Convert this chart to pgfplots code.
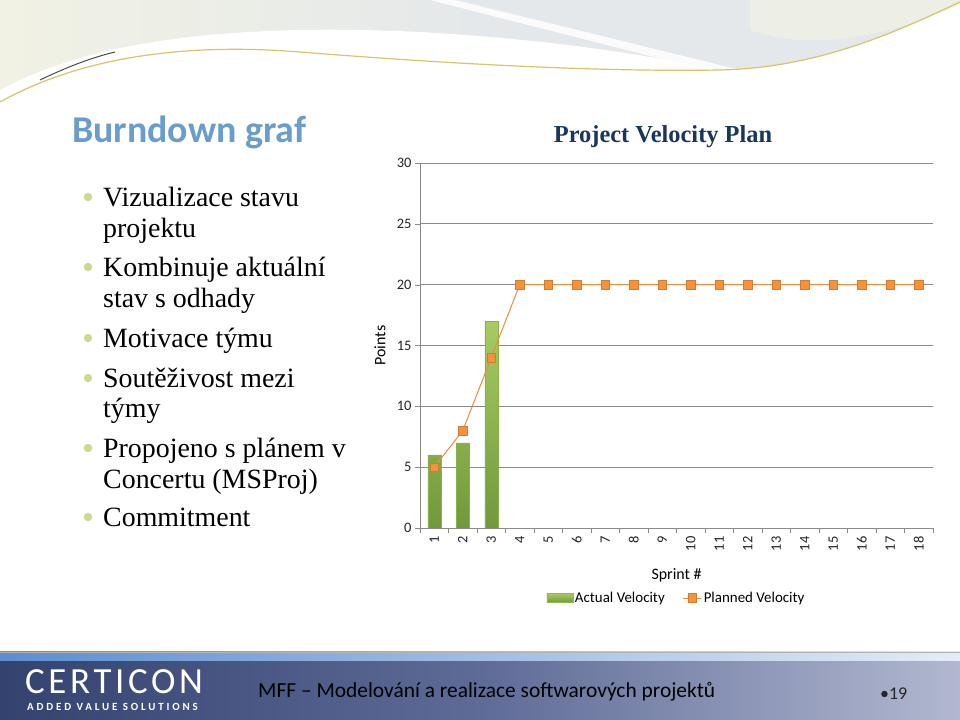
\documentclass[border=0pt]{standalone}
\usepackage{pgfplots}
\pgfplotsset{compat=1.18}
\usepackage{fontspec}
\setmainfont{Liberation Serif}
\newfontfamily\calibri{Carlito}
\definecolor{barTop}{HTML}{A6CC62}
\definecolor{barBot}{HTML}{70993A}
\definecolor{barEdge}{HTML}{8AB04A}
\definecolor{lineOr}{HTML}{EE8B3C}
\definecolor{markOr}{HTML}{F7923A}
\definecolor{gridgray}{HTML}{8A8A8A}
\definecolor{titleNavy}{HTML}{17375E}
\definecolor{slideTitle}{HTML}{6A9DCB}
\definecolor{bulletCol}{HTML}{CBDB8E}
\definecolor{footL}{HTML}{34426F}
\definecolor{footM}{HTML}{5E6B97}
\definecolor{footR}{HTML}{B2B8D0}
\definecolor{stripL}{HTML}{5C8ED0}
\definecolor{stripR}{HTML}{E4ECF6}
\definecolor{decoGray}{HTML}{E5E8EA}
\definecolor{decoYel}{HTML}{F1F2E4}
\definecolor{goldLine}{HTML}{D8C46A}
\pgfplotsset{
  mylineleg/.style={legend image code/.code={\draw[mark repeat=2,mark phase=2,##1] plot coordinates {(-8bp,0bp) (1bp,0bp) (10bp,0bp)};}},
  mybarleg/.style={legend image code/.code={\fill[barTop!60!barBot] (-12bp,-4.5bp) rectangle (14bp,4.5bp);}}
}
\begin{document}
\begin{tikzpicture}[x=1bp,y=1bp]
\path[use as bounding box] (0,0) rectangle (960,720);
\fill[white] (0,0) rectangle (960,720);
% top decoration
\shade[left color=decoYel, right color=decoGray, middle color=decoGray]
  (0,720) -- (0,615) .. controls (90,668) and (200,676) .. (300,668)
  .. controls (450,656) and (600,648) .. (720,650)
  .. controls (820,652) and (900,690) .. (960,718) -- (960,720) -- cycle;
\fill[white] (0,630) .. controls (100,684) and (250,696) .. (420,688)
  .. controls (560,680) and (650,664) .. (720,650)
  .. controls (600,648) and (450,656) .. (300,668)
  .. controls (200,676) and (90,668) .. (0,615) -- cycle;
\fill[white, opacity=0.85] (430,720) -- (455,720) -- (740,650) -- (705,650) -- cycle;
\fill[decoYel, opacity=0.7] (750,720) -- (960,720) -- (960,715) .. controls (900,690) and (820,665) .. (750,690) -- cycle;
\draw[goldLine, line width=1.2bp] (0,618) .. controls (90,668) and (200,676) .. (300,668)
  .. controls (450,656) and (600,648) .. (720,650)
  .. controls (820,652) and (900,690) .. (960,718);
\draw[gray!60!black, line width=1bp] (40,640) .. controls (65,652) and (90,662) .. (115,668);
% slide title
\node[anchor=base west, inner sep=0pt, text=slideTitle, font=\calibri\bfseries\fontsize{38}{42}\selectfont] at (72,577) {Burndown graf};
% bullets
\foreach \yy in {513,443,372,332,262,193} {\fill[bulletCol] (88,\yy+10) circle (4.2);}
\begin{scope}[every node/.style={anchor=base west, inner sep=0pt, font=\fontsize{28}{31}\selectfont}]
\node at (103,513) {Vizualizace stavu};
\node at (103,482) {projektu};
\node at (103,443) {Kombinuje aktuální};
\node at (103,412) {stav s odhady};
\node at (103,372) {Motivace týmu};
\node at (103,332) {Soutěživost mezi};
\node at (103,302) {týmy};
\node at (103,262) {Propojeno s plánem v};
\node at (103,231) {Concertu (MSProj)};
\node at (103,193) {Commitment};
\end{scope}
% chart title
\node[text=titleNavy, font=\bfseries\fontsize{24.5}{28}\selectfont] at (663,583) {Project Velocity Plan};
\begin{axis}[
  at={(420bp,192bp)}, anchor=south west,
  scale only axis, width=513bp, height=365bp,
  xmin=0.5, xmax=18.5, ymin=0, ymax=30,
  axis x line*=bottom, axis y line*=left,
  axis line style={draw=gridgray},
  ytick={0,5,...,30},
  xtick={1,...,18},
  minor xtick={0.5,1.5,...,18.5},
  tick align=outside,
  major tick length=5bp, minor tick length=5bp,
  major x tick style={draw=none},
  minor x tick style={draw=gridgray},
  major y tick style={draw=gridgray},
  ymajorgrids, grid style={draw=gridgray, line width=0.7bp},
  /pgf/number format/assume math mode=true,
  tick label style={font=\calibri\fontsize{14.5}{16}\selectfont, text=black!85},
  x tick label style={rotate=90, anchor=east},
  xlabel={Sprint \#}, ylabel={Points},
  label style={font=\calibri\fontsize{16}{18}\selectfont},
  x label style={at={(axis description cs:0.5,-0.129)}, anchor=center},
  y label style={at={(axis description cs:-0.078,0.5)}, anchor=center, rotate=0},
  legend style={at={(0.5,-0.192)}, anchor=center, draw=none, fill=none,
    font=\calibri\fontsize{15}{17}\selectfont, legend columns=2,
    /tikz/every even column/.append style={column sep=16bp}},
]
\addplot[ybar, bar width=13bp, draw=barEdge, top color=barTop, bottom color=barBot, mybarleg]
  coordinates {(1,6) (2,7) (3,17)};
\addlegendentry{Actual Velocity}
\addplot[color=lineOr, line width=1bp, mark=square*, mark size=4.4bp,
  mark options={fill=markOr, draw=markOr!85!black, line width=0.4bp}, mylineleg]
  coordinates {(1,5) (2,8) (3,14) (4,20) (5,20) (6,20) (7,20) (8,20) (9,20) (10,20) (11,20) (12,20) (13,20) (14,20) (15,20) (16,20) (17,20) (18,20)};
\addlegendentry{Planned Velocity}
\end{axis}
% footer
\shade[left color=footL, right color=footR, middle color=footM] (0,0) rectangle (960,59);
\shade[left color=stripL, right color=stripR] (0,59) rectangle (960,68);
\draw[gray!60, line width=0.6bp] (0,68) -- (960,68);
\node[anchor=base west, inner sep=0pt, text=white, font=\calibri\fontsize{37}{40}\selectfont\addfontfeatures{LetterSpace=10}] at (25,26) {CERTICON};
\node[anchor=base west, inner sep=0pt, text=white, font=\calibri\bfseries\fontsize{11}{12}\selectfont\addfontfeatures{LetterSpace=26}] at (27,9) {ADDED VALUE SOLUTIONS};
\node[anchor=base west, inner sep=0pt, font=\calibri\fontsize{21.5}{24}\selectfont] at (258,22) {MFF – Modelování a realizace softwarových projektů};
\node[anchor=base west, inner sep=0pt, text=black!85, font=\calibri\fontsize{18}{20}\selectfont] at (880,20) {•19};
\end{tikzpicture}
\end{document}
